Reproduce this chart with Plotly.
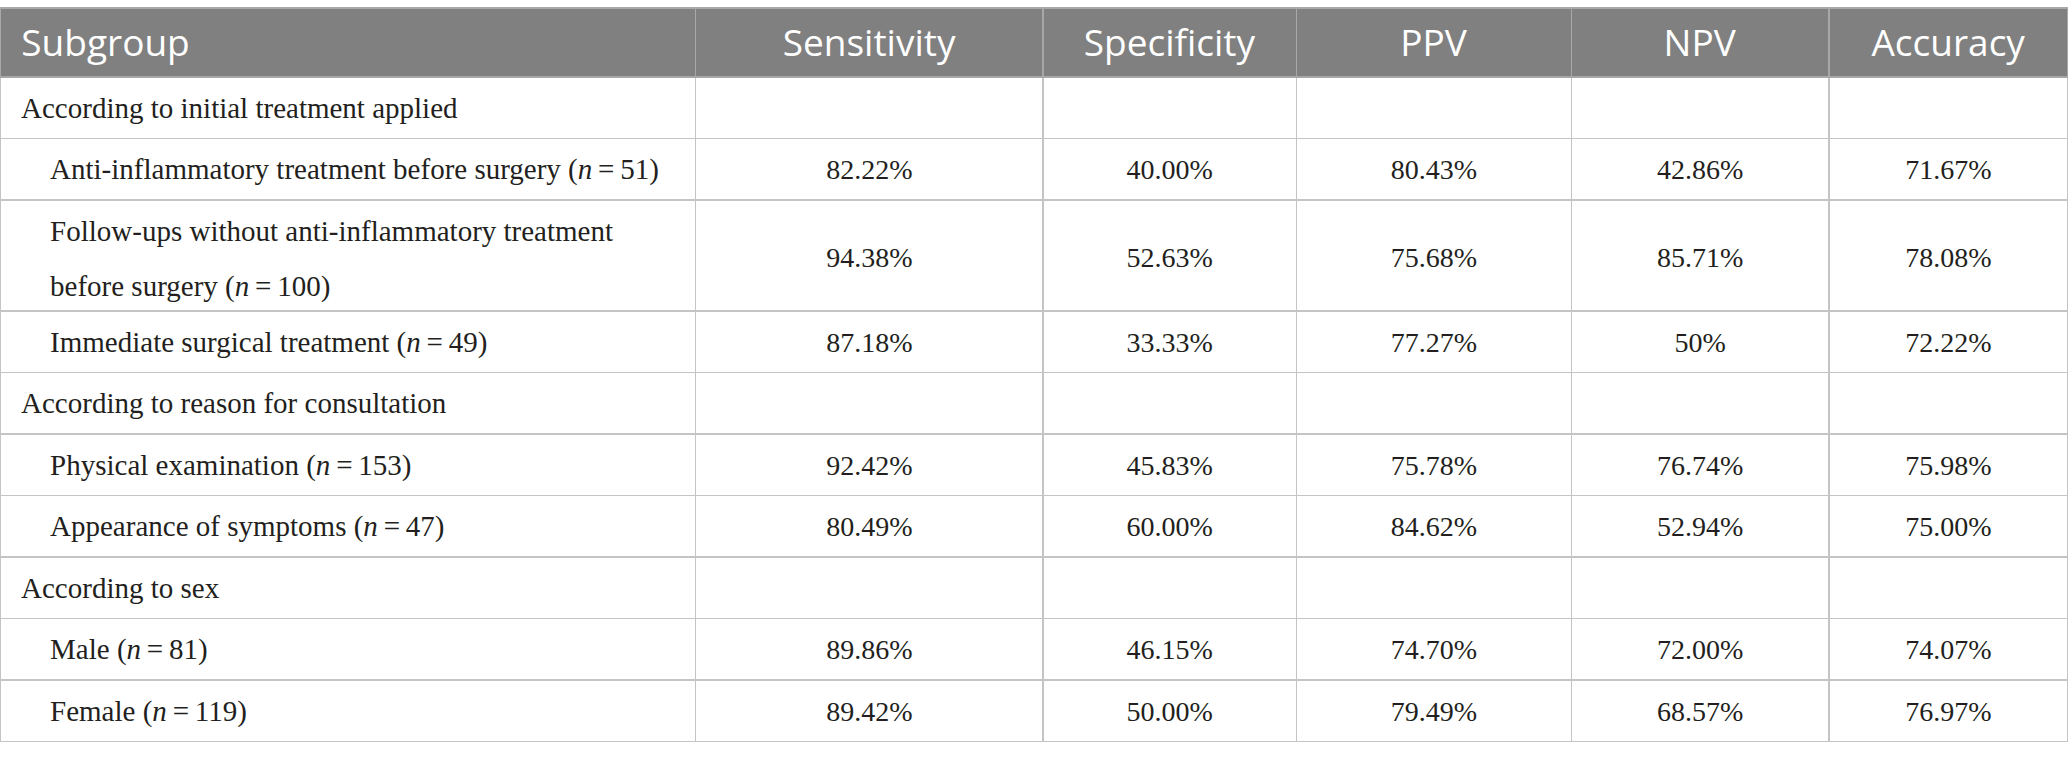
"""Subgroup diagnostic performance table: sensitivity, specificity, PPV, NPV, accuracy."""
import plotly.graph_objects as go

HEADERS = ["Subgroup", "Sensitivity", "Specificity", "PPV", "NPV", "Accuracy"]
SUBGROUPS = [
    "According to initial treatment applied",
    "Anti-inflammatory treatment before surgery (<i>n</i>\u2009=\u200951)",
    "Follow-ups without anti-inflammatory treatment<br>before surgery (<i>n</i>\u2009=\u2009100)",
    "Immediate surgical treatment (<i>n</i>\u2009=\u200949)",
    "According to reason for consultation",
    "Physical examination (<i>n</i>\u2009=\u2009153)",
    "Appearance of symptoms (<i>n</i>\u2009=\u200947)",
    "According to sex",
    "Male (<i>n</i>\u2009=\u200981)",
    "Female (<i>n</i>\u2009=\u2009119)",
]
INDENTED = [False, True, True, True, False, True, True, False, True, True]
SENSITIVITY = ["", "82.22%", "94.38%", "87.18%", "", "92.42%", "80.49%", "", "89.86%", "89.42%"]
SPECIFICITY = ["", "40.00%", "52.63%", "33.33%", "", "45.83%", "60.00%", "", "46.15%", "50.00%"]
PPV = ["", "80.43%", "75.68%", "77.27%", "", "75.78%", "84.62%", "", "74.70%", "79.49%"]
NPV = ["", "42.86%", "85.71%", "50%", "", "76.74%", "52.94%", "", "72.00%", "68.57%"]
ACCURACY = ["", "71.67%", "78.08%", "72.22%", "", "75.98%", "75.00%", "", "74.07%", "76.97%"]

HEAD_BG = "#808080"
GRID = "#c4c4c4"
INK = "#231f20"
W, H = 2068, 759
LABEL_PX, NUM_PX, HEAD_PX = 29, 28, 37
# table text is top-aligned; a 1px spacer line plus the cell font's line pitch
# (1.3em) drops the visible span down to the middle of the row
BODY_F, HEAD_F = 24.6, 29
SPACER = '<span style="font-size:1px">\u00a0</span><br>'


def _span(text: str, px: float, shift: int = 0) -> str:
    style = f"font-size:{px}px" + (f";baseline-shift:-{shift}px" if shift else "")
    return f'<span style="{style}">{text}</span>'


def _label(text: str, indent: bool) -> str:
    pad = "\u00a0" * (5 if indent else 1) + "\u2009"
    lines = text.split("<br>")
    out = [_span(pad + lines[0], LABEL_PX)]
    out += [_span(pad + t, LABEL_PX, 23) for t in lines[1:]]
    return SPACER + "<br>".join(out)


def _value(v: str, tall: bool) -> str:
    return SPACER + _span(v, NUM_PX, 26 if tall else 0) if v else ""


def main() -> None:
    two_line = ["<br>" in t for t in SUBGROUPS]
    first = [_label(t, i) for t, i in zip(SUBGROUPS, INDENTED)]
    metrics = [[_value(v, tl) for v, tl in zip(col, two_line)]
               for col in (SENSITIVITY, SPECIFICITY, PPV, NPV, ACCURACY)]
    header = [SPACER + _span(("\u00a0\u200a" if k == 0 else "") + h, HEAD_PX)
              for k, h in enumerate(HEADERS)]

    fig = go.Figure(go.Table(
        domain=dict(x=[0, 1], y=[0, 1 - 8 / H]),
        columnwidth=[695, 347, 253, 275, 257, 239],
        header=dict(values=header, fill_color=HEAD_BG, height=69,
                    align=["left"] + ["center"] * 5,
                    line=dict(color="#a8a8a8", width=1.5),
                    font=dict(family="Open Sans", size=HEAD_F, color="white")),
        cells=dict(values=[first] + metrics, fill_color="white", height=61.5,
                   align=["left"] + ["center"] * 5,
                   line=dict(color=GRID, width=1.5),
                   font=dict(family="Liberation Serif", size=BODY_F, color=INK)),
    ))
    fig.update_layout(width=W, height=H, margin=dict(l=0, r=0, t=0, b=0),
                      paper_bgcolor="white")
    fig.write_html("out.html", config={"displayModeBar": False}, post_script=(
        "document.body.style.margin='0';document.body.style.overflow='hidden';"))


if __name__ == "__main__":
    main()
